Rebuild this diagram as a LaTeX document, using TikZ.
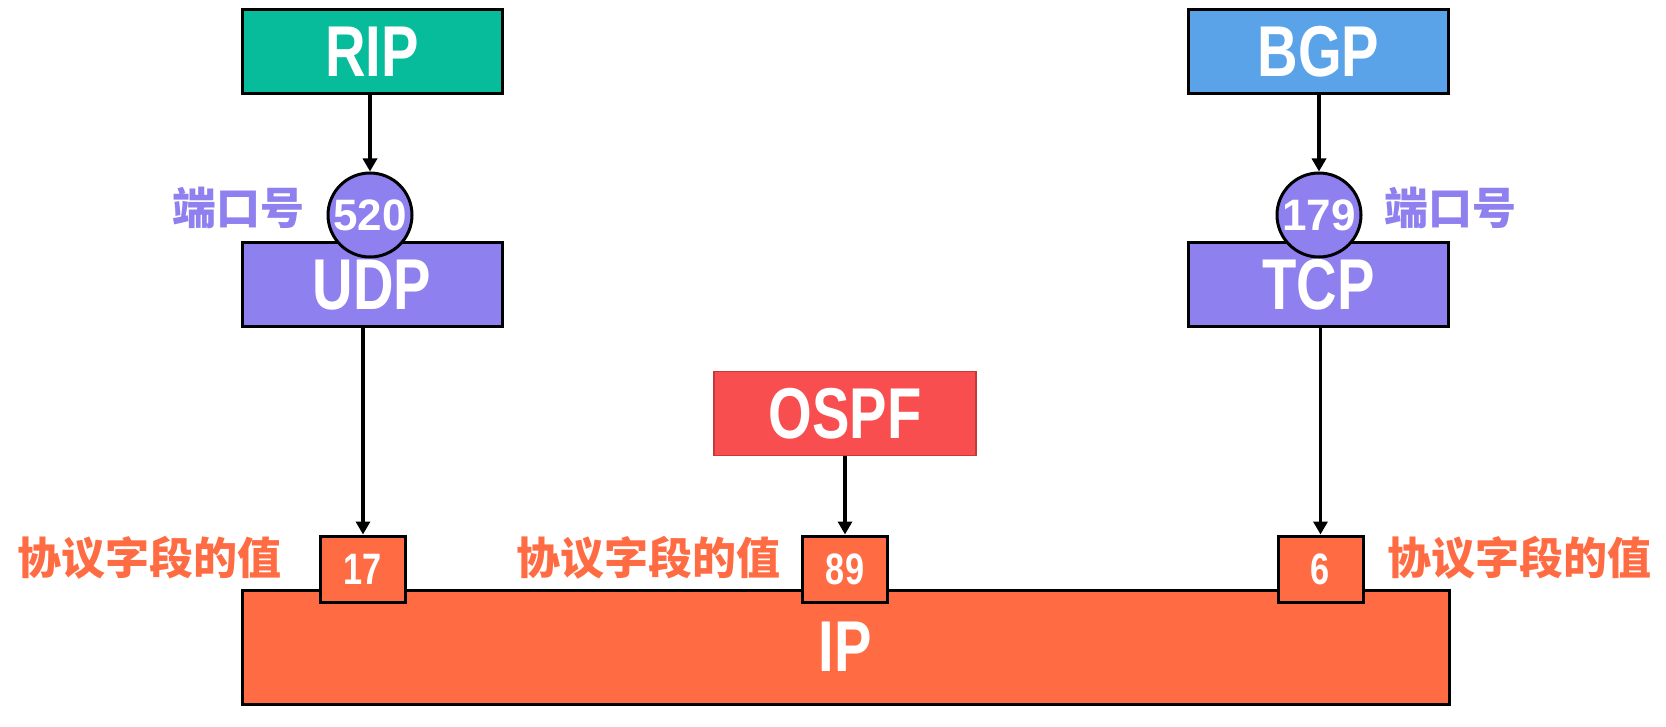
\documentclass[tikz,border=0pt]{standalone}
\usepackage{fontspec}
\setmainfont{Liberation Sans}
\newfontfamily\narrowsf{Liberation Sans}[FakeStretch=0.78]
\newfontfamily\cjk{Noto Sans CJK SC}
\usetikzlibrary{arrows.meta}
\definecolor{ripgreen}{RGB}{6,188,154}
\definecolor{bgpblue}{RGB}{90,163,232}
\definecolor{udppurple}{RGB}{143,128,239}
\definecolor{ospfred}{RGB}{248,78,79}
\definecolor{ospfedge}{RGB}{196,58,60}
\definecolor{iporange}{RGB}{255,107,66}
\tikzset{
  layer/.style={draw=black,line width=1.5pt,minimum width=130pt,minimum height=42pt,inner sep=0pt,
    text=white,font=\narrowsf\bfseries\fontsize{36}{36}\selectfont},
  port/.style={circle,draw=black,line width=1.5pt,fill=udppurple,minimum size=42pt,inner sep=0pt,
    text=white,font=\bfseries\fontsize{22}{22}\selectfont},
  field/.style={draw=black,line width=1.5pt,fill=iporange,minimum width=42.5pt,minimum height=33pt,
    inner sep=0pt,text=white,font=\narrowsf\bfseries\fontsize{22}{22}\selectfont},
  note/.style={inner sep=0pt,font=\cjk\bfseries\fontsize{22}{22}\selectfont},
  arr/.style={line width=1.8pt,-{Triangle[length=6.5pt,width=7pt]}}
}
\begin{document}
\begin{tikzpicture}[x=0.5pt,y=-0.5pt]
\useasboundingbox (0,0) rectangle (1666,727);
\node[layer,fill=ripgreen] (rip) at (372,51.5) {RIP};
\node[layer,fill=bgpblue] (bgp) at (1318.5,51.5) {BGP};
\node[layer,fill=udppurple] (udp) at (372,285) {UDP};
\node[layer,fill=udppurple] (tcp) at (1318.5,285) {TCP};
\node[layer,fill=ospfred,draw=ospfedge,line width=0.8pt,minimum width=131pt] (ospf) at (845,413.5) {OSPF};
\node[layer,fill=iporange,minimum width=603.5pt,minimum height=57pt] (ip) at (845.5,647) {IP};
\node[port] (p520) at (370,215) {520};
\node[port] (p179) at (1319,215) {179};
\node[field] (f17) at (363,569) {17};
\node[field] (f89) at (845,569) {89};
\node[field] (f6) at (1320.5,569) {6};
\node[note,text=udppurple] (l520) at (238,208) {端口号};
\node[note,text=udppurple] (l179) at (1450,208) {端口号};
\node[note,text=iporange] (l17) at (150,558) {协议字段的值};
\node[note,text=iporange] (l89) at (648,558) {协议字段的值};
\node[note,text=iporange] (l6) at (1519,558) {协议字段的值};
\draw[arr] (p520 |- rip.south) -- (p520);
\draw[arr] (p179 |- bgp.south) -- (p179);
\draw[arr] (f17 |- udp.south) -- (f17);
\draw[arr] (ospf) -- (f89);
\draw[arr] (f6 |- tcp.south) -- (f6);
\end{tikzpicture}
\end{document}
